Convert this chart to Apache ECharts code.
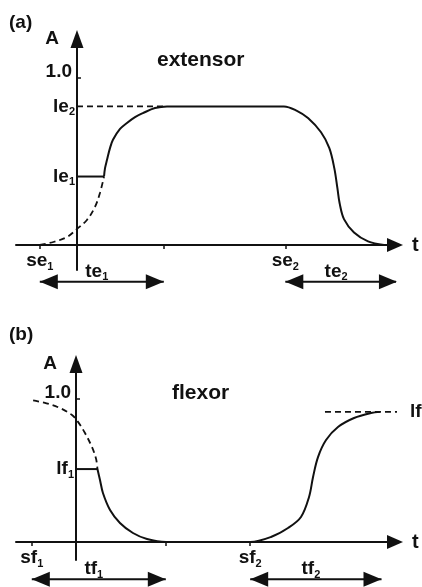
<!DOCTYPE html>
<html>
<head>
<meta charset="utf-8">
<title>extensor / flexor</title>
<script src="https://cdn.jsdelivr.net/npm/echarts@6/dist/echarts.min.js"></script>
<style>
html, body { margin: 0; padding: 0; background: #fff; }
#chart { width: 422px; height: 587px; }
</style>
</head>
<body>
<div id="chart"></div>
<script>
// ---- (a) extensor ----
var extLevels = [1.0, 0.83, 0.41];
var extLevelLabels = ['1.0', 'le_2', 'le_1'];
var extTicks = [-0.3, 0.7, 1.68];
var extTickLabels = ['se_1', '', 'se_2'];
var extSpans = [[-0.3, 0.7], [1.68, 2.58]];
var extSpanLabels = ['te_1', 'te_2'];
var extGuide = [[0, 0.83], [0.726, 0.83]];
var extStep = [[0, 0.41], [0.218, 0.41]];
var extOnset = [[-0.3, 0], [-0.19, 0.018], [-0.08, 0.048], [0, 0.096], [0.08, 0.15], [0.145, 0.228], [0.185, 0.311], [0.218, 0.41]];
var extCurve = [
    [0.218, 0.41], [0.226, 0.46], [0.242, 0.51], [0.266, 0.58], [0.29, 0.63], [0.347, 0.695],
    [0.403, 0.731], [0.468, 0.766], [0.532, 0.79], [0.629, 0.82], [0.726, 0.83], [1.669, 0.83],
    [1.77, 0.805], [1.863, 0.76], [1.968, 0.675], [2.035, 0.58], [2.075, 0.46], [2.1, 0.34],
    [2.118, 0.25], [2.153, 0.155], [2.234, 0.075], [2.347, 0.022], [2.476, 0]
];

// ---- (b) flexor ----
var flxLevels = [1.0, 0.51];
var flxLevelLabels = ['1.0', 'lf_1'];
var flxTicks = [-0.33, 0.67, 1.3];
var flxTickLabels = ['sf_1', '', 'sf_2'];
var flxSpans = [[-0.33, 0.67], [1.3, 2.28]];
var flxSpanLabels = ['tf_1', 'tf_2'];
var flxGuide = [[1.858, 0.91], [2.478, 0.91]];
var flxGuideLabel = 'lf';
var flxStep = [[0, 0.51], [0.16, 0.51]];
var flxOnset = [[-0.32, 0.99], [-0.22, 0.97], [-0.12, 0.937], [-0.03, 0.888], [0.015, 0.84], [0.067, 0.762], [0.119, 0.664], [0.15, 0.58], [0.16, 0.51]];
var flxCurve = [
    [0.16, 0.51], [0.179, 0.434], [0.201, 0.343], [0.254, 0.224], [0.328, 0.133], [0.425, 0.063],
    [0.53, 0.021], [0.672, 0], [1.3, 0], [1.455, 0.035], [1.582, 0.098], [1.679, 0.175],
    [1.739, 0.315], [1.769, 0.455], [1.806, 0.594], [1.866, 0.713], [1.955, 0.804], [2.075, 0.867],
    [2.201, 0.902], [2.269, 0.91]
];

var FONT = '"Liberation Sans", Arial, Helvetica, sans-serif';
var INK = '#111';

// 画布布局
var W = 422, H = 587;
var gridA = { left: 16, right: 27, top: 39, bottom: 317 };
var gridB = { left: 16, right: 27, top: 364, bottom: 27 };
var rangeA = { x: [-0.4919, 2.5645], y: [-0.1497, 1.2335] };
var rangeB = { x: [-0.4478, 2.3806], y: [-0.1259, 1.2448] };

var RICH = {
    m: { fontFamily: FONT, fontWeight: 'bold', fontSize: 19, color: INK, lineHeight: 22 },
    s: { fontFamily: FONT, fontWeight: 'bold', fontSize: 11, color: INK, lineHeight: 14, verticalAlign: 'bottom' },
    n: { fontFamily: FONT, fontWeight: 'bold', fontSize: 19, color: INK, padding: [0, 3, 12, 0] }
};

// 'le_2' -> le + 下标 2
function fmt(label) {
    var p = label.split('_');
    return '{m|' + p[0] + '}' + (p[1] ? '{s|' + p[1] + '}' : '');
}
function fmtY(label) {
    return label.indexOf('_') >= 0 ? fmt(label) : '{n|' + label + '}';
}
function lookup(values, labels, f) {
    return function (v) {
        for (var i = 0; i < values.length; i++) {
            if (Math.abs(values[i] - v) < 1e-6) return f(labels[i]);
        }
        return '';
    };
}
// 坐标轴移到 0 处 (轴线和标签一起移动)
function zeroOffset(range, sizePx) {
    return -(0 - range[0]) / (range[1] - range[0]) * sizePx;
}

function xAxisFor(gi, grid, range, ticks, tickLabels) {
    var labelled = ticks.filter(function (t, i) { return tickLabels[i] !== ''; });
    var h = H - grid.top - grid.bottom;
    return {
        type: 'value', gridIndex: gi, min: range.x[0], max: range.x[1],
        position: 'bottom', offset: zeroOffset(range.y, h),
        name: 't', nameLocation: 'end', nameGap: 17,
        nameTextStyle: { color: INK, fontFamily: FONT, fontWeight: 'bold', fontSize: 20 },
        axisLine: { onZero: false, symbol: ['none', 'triangle'], symbolSize: [14, 16], lineStyle: { color: INK, width: 2 } },
        axisTick: { show: true, customValues: ticks, length: 4, lineStyle: { color: INK, width: 1.5 } },
        axisLabel: { customValues: labelled, margin: 5, formatter: lookup(ticks, tickLabels, fmt), rich: RICH },
        splitLine: { show: false }
    };
}

function yAxisFor(gi, grid, range, levels, levelLabels, namePad) {
    var w = W - grid.left - grid.right;
    return {
        type: 'value', gridIndex: gi, min: range.y[0], max: range.y[1],
        position: 'left', offset: zeroOffset(range.x, w),
        name: 'A', nameLocation: 'end', nameGap: 0,
        nameTextStyle: { color: INK, fontFamily: FONT, fontWeight: 'bold', fontSize: 19, align: 'right', verticalAlign: 'middle', padding: [0, namePad, 0, 0] },
        axisLine: { onZero: false, symbol: ['none', 'triangle'], symbolSize: [13, 18], lineStyle: { color: INK, width: 2 } },
        axisTick: { show: true, customValues: [1.0], inside: true, length: 4, lineStyle: { color: INK, width: 1.5 } },
        axisLabel: { customValues: levels, margin: 2, formatter: lookup(levels, levelLabels, fmtY), rich: RICH },
        splitLine: { show: false }
    };
}

function curve(gi, data, dashed, smooth) {
    return {
        type: 'line', xAxisIndex: gi, yAxisIndex: gi, data: data,
        showSymbol: false, symbol: 'none', smooth: smooth ? 0.35 : false, clip: false, silent: true,
        lineStyle: { color: INK, width: dashed ? 1.8 : 2, type: dashed ? [6, 4] : 'solid' }
    };
}

// 双向箭头 te / tf
function spanArrow(gi, span, y) {
    return {
        type: 'line', xAxisIndex: gi, yAxisIndex: gi, clip: false, silent: true,
        symbol: 'triangle', symbolSize: [15, 18],
        lineStyle: { color: INK, width: 2 }, itemStyle: { color: INK },
        data: [
            { value: [span[0], y], symbolRotate: 90, symbolOffset: [9, 0] },
            { value: [span[1], y], symbolRotate: -90, symbolOffset: [-9, 0] }
        ]
    };
}
function textMarks(gi, points, labels, position, offset) {
    return {
        type: 'scatter', xAxisIndex: gi, yAxisIndex: gi, clip: false, silent: true, symbolSize: 0,
        itemStyle: { color: INK, opacity: 1 },
        label: {
            show: true, position: position, offset: offset, distance: 2, color: INK, textBorderWidth: 0,
            formatter: function (p) { return fmt(labels[p.dataIndex]); }, rich: RICH
        },
        data: points
    };
}
function midpoints(spans, y) {
    return spans.map(function (s) { return [(s[0] + s[1]) / 2, y]; });
}

var titleStyle = { color: INK, fontFamily: FONT, fontWeight: 'bold', fontSize: 19 };
var nameStyle = { color: INK, fontFamily: FONT, fontWeight: 'bold', fontSize: 21 };

var option = {
    animation: false,
    backgroundColor: '#fff',
    title: [
        { text: '(a)', left: 9, top: 13, padding: 0, textStyle: titleStyle },
        { text: 'extensor', left: 157, top: 50, padding: 0, textStyle: nameStyle },
        { text: '(b)', left: 9, top: 325, padding: 0, textStyle: titleStyle },
        { text: 'flexor', left: 172, top: 383, padding: 0, textStyle: nameStyle }
    ],
    grid: [
        Object.assign({ outerBoundsMode: 'none' }, gridA),
        Object.assign({ outerBoundsMode: 'none' }, gridB)
    ],
    xAxis: [
        xAxisFor(0, gridA, rangeA, extTicks, extTickLabels),
        xAxisFor(1, gridB, rangeB, flxTicks, flxTickLabels)
    ],
    yAxis: [
        yAxisFor(0, gridA, rangeA, extLevels, extLevelLabels, 18),
        yAxisFor(1, gridB, rangeB, flxLevels, flxLevelLabels, 19)
    ],
    series: [
        curve(0, extGuide, true, false),
        curve(0, extOnset, true, true),
        curve(0, extStep, false, false),
        curve(0, extCurve, false, true),
        spanArrow(0, extSpans[0], -0.22),
        spanArrow(0, extSpans[1], -0.22),
        textMarks(0, midpoints(extSpans, -0.22), extSpanLabels, 'inside', [-5, -10]),

        curve(1, flxOnset, true, true),
        curve(1, flxStep, false, false),
        curve(1, flxCurve, false, true),
        curve(1, flxGuide, true, false),
        textMarks(1, [flxGuide[1]], [flxGuideLabel], 'right', [0, 0]),
        spanArrow(1, flxSpans[0], -0.26),
        spanArrow(1, flxSpans[1], -0.26),
        textMarks(1, midpoints(flxSpans, -0.26), flxSpanLabels, 'inside', [-5, -10])
    ]
};

var myChart = echarts.init(document.getElementById('chart'));
myChart.setOption(option);
</script>
</body>
</html>
